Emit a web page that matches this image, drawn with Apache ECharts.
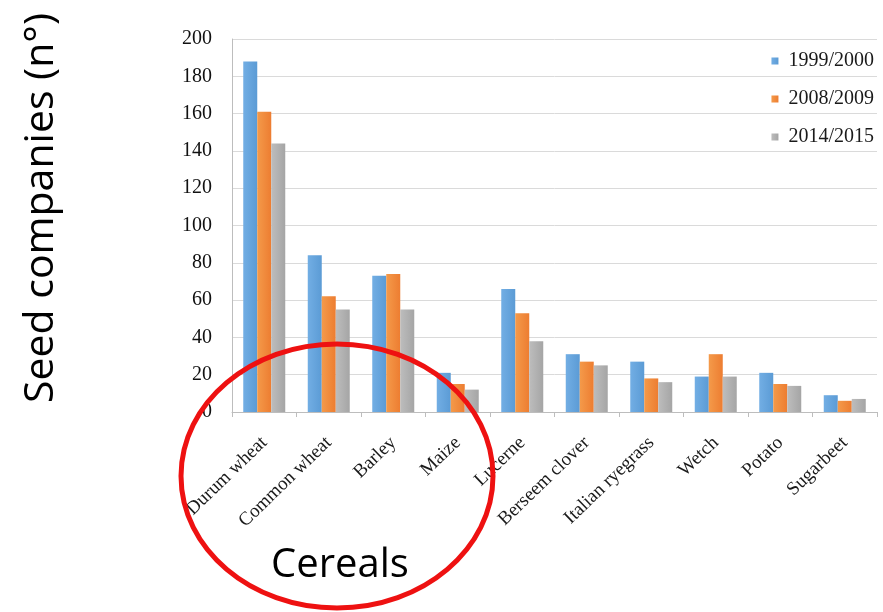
<!DOCTYPE html>
<html><head><meta charset="utf-8">
<script src="https://cdn.jsdelivr.net/npm/echarts@6/dist/echarts.min.js"></script>
<style>html,body{margin:0;padding:0;background:#fff}#c{width:883px;height:612px}</style>
</head><body><div id="c"></div>
<script>
const categories = ['Durum wheat','Common wheat','Barley','Maize','Lucerne','Berseem clover','Italian ryegrass','Wetch','Potato','Sugarbeet'];
const s1999 = [188, 84, 73, 21, 66, 31, 27, 19, 21, 9];
const s2008 = [161, 62, 74, 15, 53, 27, 18, 31, 15, 6];
const s2014 = [144, 55, 55, 12, 38, 25, 16, 19, 14, 7];
const seriesNames = ['1999/2000','2008/2009','2014/2015'];
const yTicks = {min: 0, max: 200, interval: 20};

const chart = echarts.init(document.getElementById('c'));
const serif = 'Liberation Serif';
function grad(a, b){
  return new echarts.graphic.LinearGradient(0,0,1,0,[{offset:0,color:a},{offset:1,color:b}]);
}
chart.setOption({
  animation: false,
  backgroundColor: '#fff',
  grid: {left: 232, right: 6, top: 39, bottom: 200},
  legend: {
    orient: 'vertical', right: 4, top: 46, itemGap: 18,
    itemWidth: 7, itemHeight: 7, icon: 'rect',
    textStyle: {fontFamily: serif, fontSize: 20, lineHeight: 20, color: '#1a1a1a', padding: [0,0,0,5]},
    data: seriesNames
  },
  xAxis: {
    type: 'category', data: categories,
    axisLine: {lineStyle: {color: '#bdbdbd'}},
    axisTick: {show: true, length: 5, lineStyle: {color: '#bdbdbd'}},
    axisLabel: {rotate: 44, fontFamily: serif, fontSize: 19, color: '#1a1a1a', margin: 28, interval: 0}
  },
  yAxis: {
    type: 'value', min: yTicks.min, max: yTicks.max, interval: yTicks.interval,
    axisLine: {show: true, lineStyle: {color: '#bdbdbd'}},
    axisTick: {show: false},
    splitLine: {lineStyle: {color: '#dadada', width: 1}},
    axisLabel: {fontFamily: serif, fontSize: 20, color: '#111', margin: 20}
  },
  series: [
    {name: seriesNames[0], type: 'bar', data: s1999, barWidth: 14, barGap: '0%', itemStyle: {color: grad('#72aee4','#5b9bd5')}},
    {name: seriesNames[1], type: 'bar', data: s2008, barWidth: 14, barGap: '0%', itemStyle: {color: grad('#f49a4a','#ed7d31')}},
    {name: seriesNames[2], type: 'bar', data: s2014, barWidth: 14, barGap: '0%', itemStyle: {color: grad('#bdbdbd','#a5a5a5')}}
  ],
  graphic: [
    {type: 'text', x: 41, y: 208, rotation: Math.PI/2,
     style: {text: 'Seed companies (n°)', font: '41px "Open Sans"', fill: '#000', textAlign: 'center', textVerticalAlign: 'middle'}},
    {type: 'text', x: 340, y: 566,
     style: {text: 'Cereals', font: '40px "Open Sans"', fill: '#000', textAlign: 'center', textVerticalAlign: 'middle'}},
    {type: 'ellipse', shape: {cx: 337, cy: 476, rx: 156, ry: 132},
     style: {fill: 'none', stroke: '#ee1111', lineWidth: 5}, z: 100}
  ]
});
</script></body></html>
